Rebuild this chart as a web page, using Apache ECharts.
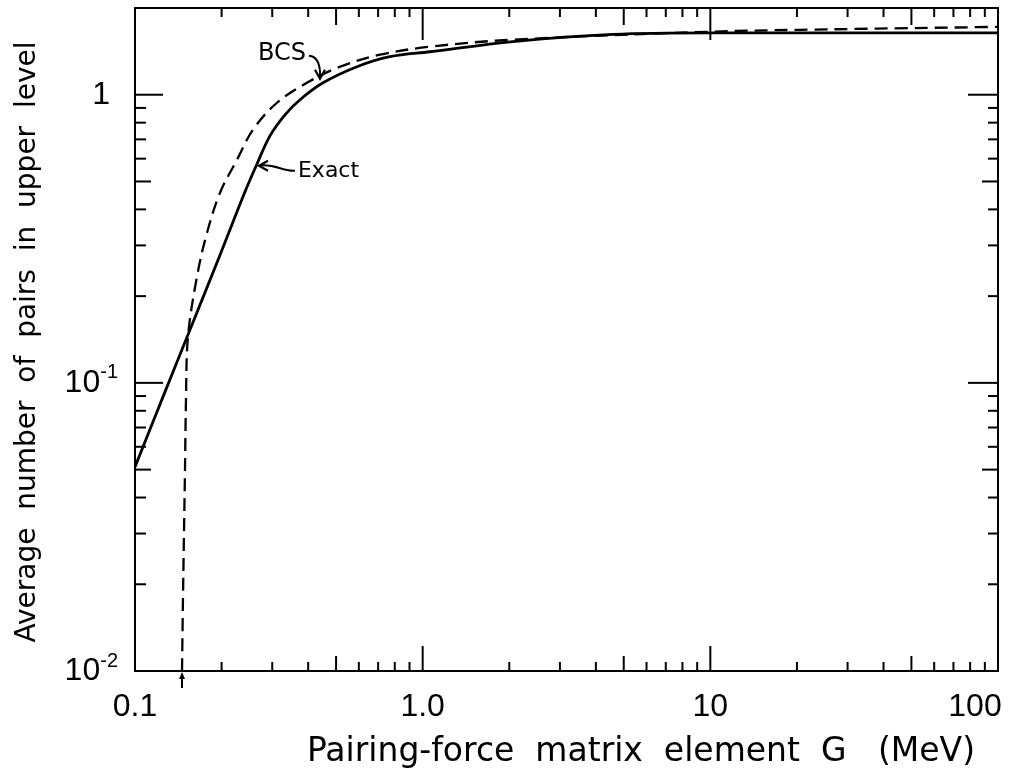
<!DOCTYPE html>
<html>
<head>
<meta charset="utf-8">
<script src="https://cdn.jsdelivr.net/npm/echarts@6/dist/echarts.min.js"></script>
<style>
html,body{margin:0;padding:0;background:#fff;}
#chart{width:1017px;height:779px;}
</style>
</head>
<body>
<div id="chart"></div>
<script>
// ---- data ----
const X_MIN = 0.1, X_MAX = 100;
const Y_MIN = 0.01, Y_MAX = 2;

// Exact curve: G (MeV) and average number of pairs in upper level
const exactG = [0.1, 0.1251, 0.1553, 0.1975, 0.2412, 0.2655, 0.2945, 0.3322, 0.3746, 0.4503, 0.591, 0.769, 1.06, 2.06, 4.59, 10, 100];
const exactN = [0.0511, 0.0894, 0.1528, 0.278, 0.4605, 0.575, 0.720, 0.852, 0.961, 1.10, 1.251, 1.355, 1.41, 1.53, 1.62, 1.64, 1.64];

// BCS curve
const bcsG = [0.1457, 0.1468, 0.1492, 0.1504, 0.1528, 0.1642, 0.178, 0.1975, 0.2262, 0.257, 0.3116, 0.396, 0.516, 0.711, 1.06, 2.06, 10, 20.5, 100];
const bcsN = [0.01, 0.0177, 0.0499, 0.0873, 0.1445, 0.2335, 0.332, 0.457, 0.595, 0.756, 0.938, 1.10, 1.251, 1.377, 1.468, 1.553, 1.655, 1.68, 1.72];

// BCS critical G (arrow below the axis)
const bcsCriticalG = 0.1457;

// annotation anchor points on the curves
const bcsLabelAnchor = [0.4396, 1.127];
const exactLabelAnchor = [0.2676, 0.567];

// tick values
const xMajorTicks = [0.1, 1, 10, 100];
const yMajorTicks = [0.01, 0.1, 1];
const minorMultipliers = [2, 3, 4, 6, 7, 8, 9];
const midMultipliers = [5];
const xTickLabels = {'-1': '0.1', '0': '1.0', '1': '10', '2': '100'};

// ---- build chart ----
const FONT = "'Liberation Sans', sans-serif";
const TITLE_FONT = "'DejaVu Sans', sans-serif";

function zip(a, b) { return a.map((v, i) => [v, b[i]]); }

// tick items: [x, y, side, kind]  side: 0 bottom, 1 top, 2 left, 3 right; kind: 0 major, 1 mid, 2 minor
const tickData = [];
function addX(v, kind) { if (v > X_MIN * 0.999 && v < X_MAX * 1.001) { tickData.push([v, Y_MIN, 0, kind]); tickData.push([v, Y_MAX, 1, kind]); } }
function addY(v, kind) { if (v > Y_MIN * 0.999 && v < Y_MAX * 0.999) { tickData.push([X_MIN, v, 2, kind]); tickData.push([X_MAX, v, 3, kind]); } }
xMajorTicks.forEach(v => addX(v, 0));
xMajorTicks.forEach(d => { midMultipliers.forEach(m => addX(d * m, 1)); minorMultipliers.forEach(m => addX(d * m, 2)); });
yMajorTicks.forEach(v => addY(v, 0));
yMajorTicks.forEach(d => { midMultipliers.forEach(m => addY(d * m, 1)); minorMultipliers.forEach(m => addY(d * m, 2)); });

const TICK_LEN = [
  [25, 15, 9],  // bottom
  [32, 17, 9],  // top
  [28, 16, 11], // left
  [30, 16, 10]  // right
];

const chart = echarts.init(document.getElementById('chart'), null, {renderer: 'canvas'});

function logExp(v) { return Math.log10(v); }

const option = {
  backgroundColor: '#fff',
  animation: false,
  grid: {left: 135, right: 19, top: 8, bottom: 108, show: true, borderColor: '#000', borderWidth: 2, backgroundColor: 'transparent'},
  xAxis: {
    type: 'log', logBase: 10, min: X_MIN, max: X_MAX,
    axisLine: {show: false}, axisTick: {show: false}, splitLine: {show: false},
    axisLabel: {
      margin: 20, color: '#000', fontFamily: FONT, fontSize: 32,
      formatter: function (v) {
        const e = logExp(v); const r = Math.round(e);
        if (Math.abs(e - r) > 1e-6) return '';
        const t = xTickLabels[String(r)];
        if (r === 2) return '{r|' + t + '}';
        return t;
      },
      rich: {r: {fontFamily: FONT, fontSize: 32, color: '#000', padding: [0, 46, 0, 0]}}
    }
  },
  yAxis: {
    type: 'log', logBase: 10, min: Y_MIN, max: Y_MAX,
    axisLine: {show: false}, axisTick: {show: false}, splitLine: {show: false},
    axisLabel: {
      margin: 17, color: '#000', fontFamily: FONT, fontSize: 32,
      formatter: function (v) {
        const e = logExp(v); const r = Math.round(e);
        if (Math.abs(e - r) > 1e-6) return '';
        if (r === 0) return '{one|1}';
        return '{b|10}{s|-' + (-r) + '}';
      },
      rich: {
        one: {fontFamily: FONT, fontSize: 32, color: '#000', lineHeight: 40, padding: [0, 8, 0, 0]},
        b: {fontFamily: FONT, fontSize: 32, color: '#000', lineHeight: 40},
        s: {fontFamily: FONT, fontSize: 20, color: '#000', verticalAlign: 'top', lineHeight: 20}
      }
    }
  },
  graphic: [
    {type: 'text', x: 641, y: 752, silent: true,
     style: {text: 'Pairing-force  matrix  element  G   (MeV)', fill: '#000', font: '33px ' + TITLE_FONT, align: 'center', verticalAlign: 'middle'}},
    {type: 'text', x: 28, y: 342, rotation: Math.PI / 2, silent: true,
     style: {text: 'Average  number  of  pairs  in  upper  level', fill: '#000', font: '28px ' + TITLE_FONT, align: 'center', verticalAlign: 'middle'}}
  ],
  series: [
    {
      name: 'Exact', type: 'line', data: zip(exactG, exactN), showSymbol: false, smooth: 0.35,
      lineStyle: {color: '#000', width: 2.8, type: 'solid'}, clip: true, z: 3
    },
    {
      name: 'BCS', type: 'line', data: zip(bcsG, bcsN), showSymbol: false, smooth: 0.35,
      lineStyle: {color: '#000', width: 2.3, type: [13, 7]}, clip: true, z: 3
    },
    {
      name: 'ticks', type: 'custom', data: tickData, clip: false, silent: true, z: 4,
      renderItem: function (params, api) {
        const p = api.coord([api.value(0), api.value(1)]);
        const side = api.value(2), kind = api.value(3);
        const len = TICK_LEN[side][kind];
        let x2 = p[0], y2 = p[1];
        if (side === 0) y2 = p[1] - len;
        else if (side === 1) y2 = p[1] + len;
        else if (side === 2) x2 = p[0] + len;
        else x2 = p[0] - len;
        return {type: 'line', shape: {x1: p[0], y1: p[1], x2: x2, y2: y2}, style: {stroke: '#000', lineWidth: 2}};
      }
    },
    {
      name: 'annotations', type: 'custom', clip: false, silent: true, z: 5,
      data: [[bcsLabelAnchor[0], bcsLabelAnchor[1], 0], [exactLabelAnchor[0], exactLabelAnchor[1], 1], [bcsCriticalG, Y_MIN, 2]],
      renderItem: function (params, api) {
        const p = api.coord([api.value(0), api.value(1)]);
        const kind = api.value(2);
        const tx = p[0], ty = p[1];
        if (kind === 0) {
          return {type: 'group', children: [
            {type: 'text', style: {text: 'BCS', x: tx - 38, y: ty - 26, fill: '#000', font: '24px ' + TITLE_FONT, align: 'center', verticalAlign: 'middle'}},
            {type: 'path', shape: {pathData: 'M' + (tx - 11) + ' ' + (ty - 24) + ' Q' + (tx + 1) + ' ' + (ty - 23) + ' ' + tx + ' ' + (ty - 2)},
             style: {stroke: '#000', fill: null, lineWidth: 2}},
            {type: 'polyline', shape: {points: [[tx - 5, ty - 10], [tx, ty - 1], [tx + 5, ty - 10]]}, style: {stroke: '#000', fill: null, lineWidth: 2.2}}
          ]};
        } else if (kind === 1) {
          return {type: 'group', children: [
            {type: 'text', style: {text: 'Exact', x: tx + 40, y: ty + 6, fill: '#000', font: '22px ' + TITLE_FONT, align: 'left', verticalAlign: 'middle'}},
            {type: 'path', shape: {pathData: 'M' + (tx + 1) + ' ' + ty + ' C' + (tx + 16) + ' ' + (ty - 3) + ' ' + (tx + 24) + ' ' + (ty + 6) + ' ' + (tx + 37) + ' ' + (ty + 5)},
             style: {stroke: '#000', fill: null, lineWidth: 2}},
            {type: 'polyline', shape: {points: [[tx + 10, ty - 5], [tx + 1, ty], [tx + 10, ty + 5]]}, style: {stroke: '#000', fill: null, lineWidth: 2.2}}
          ]};
        } else {
          return {type: 'group', children: [
            {type: 'line', shape: {x1: tx, y1: ty + 17, x2: tx, y2: ty + 3}, style: {stroke: '#000', lineWidth: 2}},
            {type: 'polygon', shape: {points: [[tx, ty + 1], [tx - 3, ty + 8], [tx + 3, ty + 8]]}, style: {fill: '#000'}}
          ]};
        }
      }
    }
  ]
};
chart.setOption(option);
</script>
</body>
</html>
